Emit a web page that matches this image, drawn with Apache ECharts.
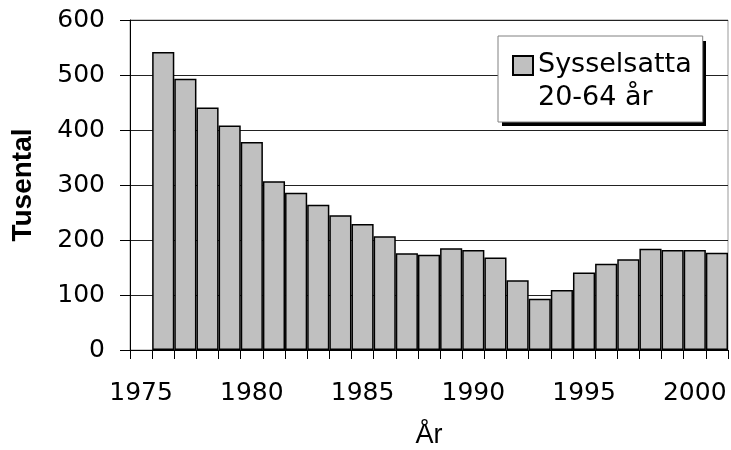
<!DOCTYPE html>
<html>
<head>
<meta charset="utf-8">
<script src="https://cdn.jsdelivr.net/npm/echarts@6/dist/echarts.min.js"></script>
<style>html,body{margin:0;padding:0;background:#fff;}#c{width:731px;height:450px;}</style>
</head>
<body>
<div id="c"></div>
<script>
const years = ['1975','1976','1977','1978','1979','1980','1981','1982','1983','1984','1985','1986','1987','1988','1989','1990','1991','1992','1993','1994','1995','1996','1997','1998','1999','2000','2001'];
const sysselsatta = [null,542,493,441,408,378,307,286,264,245,229,207,176,173,185,182,168,127,93,109,141,157,165,184,182,182,177];
const seriesName = 'Sysselsatta\n20-64 år';
const yTicks = [0,100,200,300,400,500,600];

const chart = echarts.init(document.getElementById('c'), null, {renderer: 'canvas'});
chart.setOption({
  animation: false,
  backgroundColor: '#fff',
  grid: {left: 130, top: 20, right: 3, bottom: 100, containLabel: false, outerBoundsMode: 'none', show: true, borderColor: '#999', borderWidth: 1, backgroundColor: '#fff'},
  graphic: [{
    type: 'rect', z: 3, silent: true,
    shape: {x: 502, y: 41, width: 204, height: 85},
    style: {fill: '#000'}
  }],
  legend: {
    left: 498, top: 36, z: 4,
    padding: [11, 11, 7, 14],
    backgroundColor: '#fff',
    borderColor: '#808080', borderWidth: 1,
    itemWidth: 20, itemHeight: 66,
    icon: 'path://M0,0L0,0M0,8L20,8L20,27L0,27ZM0,66L0,66',
    textStyle: {fontFamily: 'DejaVu Sans', fontSize: 27, color: '#000', lineHeight: 33},
    data: [seriesName]
  },
  xAxis: {
    type: 'category',
    data: years,
    boundaryGap: true,
    axisLine: {show: true, lineStyle: {color: '#000', width: 1}},
    axisTick: {show: true, interval: 0, length: 9, lineStyle: {color: '#000'}},
    axisLabel: {interval: 4, margin: 31, fontFamily: 'DejaVu Sans', fontSize: 25, color: '#000'},
    name: 'År', nameLocation: 'middle', nameGap: 72,
    nameTextStyle: {fontFamily: 'Liberation Sans', fontSize: 27, color: '#000'}
  },
  yAxis: {
    type: 'value',
    min: yTicks[0], max: yTicks[yTicks.length - 1], interval: 100,
    axisLine: {show: true, lineStyle: {color: '#000', width: 1}},
    axisTick: {show: true, length: 10, lineStyle: {color: '#000'}},
    splitLine: {show: true, lineStyle: {color: '#222', width: 1}},
    axisLabel: {margin: 25, fontFamily: 'DejaVu Sans', fontSize: 25, color: '#000'},
    name: 'Tusental', nameLocation: 'middle', nameRotate: 90, nameGap: 93,
    nameTextStyle: {fontFamily: 'Liberation Sans', fontWeight: 'bold', fontSize: 28, color: '#000'}
  },
  series: [{
    name: seriesName,
    type: 'bar',
    data: sysselsatta,
    barCategoryGap: 0,
    itemStyle: {color: '#c0c0c0', borderColor: '#000', borderWidth: 1.5}
  }]
});
</script>
</body>
</html>
